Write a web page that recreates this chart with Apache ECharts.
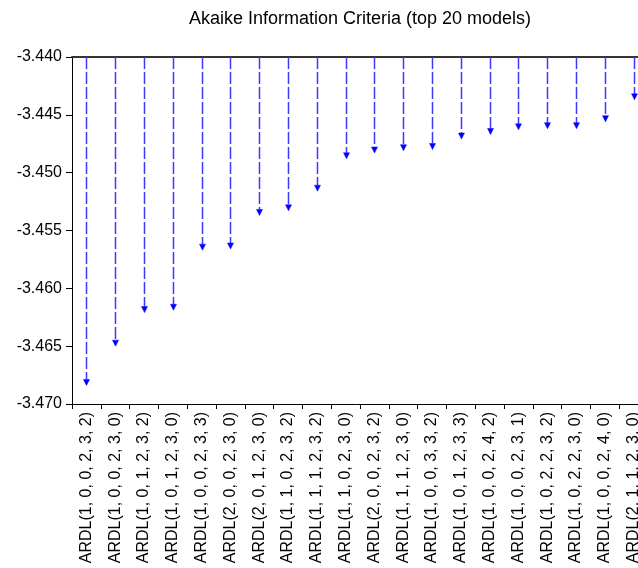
<!DOCTYPE html>
<html>
<head>
<meta charset="utf-8">
<script src="https://cdn.jsdelivr.net/npm/echarts@6/dist/echarts.min.js"></script>
<style>
html,body{margin:0;padding:0;background:#fff;}
#chart{width:638px;height:568px;}
</style>
</head>
<body>
<div id="chart"></div>
<script>
const categories = [
  "ARDL(1, 0, 0, 2, 3, 2)", "ARDL(1, 0, 0, 2, 3, 0)", "ARDL(1, 0, 1, 2, 3, 2)", "ARDL(1, 0, 1, 2, 3, 0)",
  "ARDL(1, 0, 0, 2, 3, 3)", "ARDL(2, 0, 0, 2, 3, 0)", "ARDL(2, 0, 1, 2, 3, 0)", "ARDL(1, 1, 0, 2, 3, 2)",
  "ARDL(1, 1, 1, 2, 3, 2)", "ARDL(1, 1, 0, 2, 3, 0)", "ARDL(2, 0, 0, 2, 3, 2)", "ARDL(1, 1, 1, 2, 3, 0)",
  "ARDL(1, 0, 0, 3, 3, 2)", "ARDL(1, 0, 1, 2, 3, 3)", "ARDL(1, 0, 0, 2, 4, 2)", "ARDL(1, 0, 0, 2, 3, 1)",
  "ARDL(1, 0, 2, 2, 3, 2)", "ARDL(1, 0, 2, 2, 3, 0)", "ARDL(1, 0, 0, 2, 4, 0)", "ARDL(2, 1, 1, 2, 3, 0)"
];
const aicValues = [
  -3.4684, -3.4650, -3.4621, -3.4619, -3.4567, -3.4566, -3.4537, -3.4533, -3.4516, -3.4488,
  -3.4483, -3.4481, -3.4480, -3.4471, -3.4467, -3.4463, -3.4462, -3.4462, -3.4456, -3.4437
];
const yTicks = { min: -3.470, max: -3.440, interval: 0.005 };
const baseValue = -3.440;

const chart = echarts.init(document.getElementById('chart'), null, { renderer: 'canvas' });
const FONT = 'Liberation Sans, Arial, sans-serif';

chart.setOption({
  animation: false,
  backgroundColor: '#fff',
  title: {
    text: 'Akaike Information Criteria (top 20 models)',
    left: 360,
    textAlign: 'center',
    top: 10,
    padding: 0,
    textStyle: { fontFamily: FONT, fontSize: 18, fontWeight: 'normal', color: '#000' }
  },
  grid: { left: 72, top: 57, width: 576, height: 347, containLabel: false, outerBoundsMode: 'none' },
  xAxis: [{
    type: 'category',
    data: categories,
    position: 'bottom',
    boundaryGap: true,
    axisLine: { show: true, lineStyle: { color: '#000', width: 1 } },
    axisTick: { show: true, alignWithLabel: false, length: 5, lineStyle: { color: '#000' } },
    axisLabel: { rotate: 90, interval: 0, margin: 8, padding: [8, 0, 0, 0], fontFamily: FONT, fontSize: 16, color: '#000' },
    splitLine: { show: false }
  }, {
    type: 'category',
    data: categories,
    position: 'top',
    axisLine: { show: true, lineStyle: { color: '#333', width: 2 } },
    axisTick: { show: false },
    axisLabel: { show: false },
    splitLine: { show: false }
  }],
  yAxis: {
    type: 'value',
    min: yTicks.min,
    max: yTicks.max,
    interval: yTicks.interval,
    axisLine: { show: true, lineStyle: { color: '#000', width: 1 } },
    axisTick: { show: true, length: 6, lineStyle: { color: '#000' } },
    axisLabel: { margin: 10, fontFamily: FONT, fontSize: 16, color: '#000',
      formatter: v => v.toFixed(3) },
    splitLine: { show: false }
  },
  series: [{
    type: 'custom',
    xAxisIndex: 0,
    data: aicValues.map((v, i) => [i, v]),
    renderItem: function (params, api) {
      const idx = api.value(0);
      const top = api.coord([idx, baseValue]);
      const end = api.coord([idx, api.value(1)]);
      const x = Math.round(top[0]) + 0.5;
      const ah = 6, aw = 3;
      return {
        type: 'group',
        children: [{
          type: 'line',
          shape: { x1: x, y1: top[1], x2: x, y2: end[1] - ah },
          style: { stroke: '#3a3aff', lineWidth: 1.5, lineDash: [12, 3] }
        }, {
          type: 'polygon',
          shape: { points: [[x - aw, end[1] - ah], [x + aw, end[1] - ah], [x, end[1]]] },
          style: { fill: '#0000ff', stroke: '#0000ff', lineWidth: 0.5 }
        }]
      };
    }
  }]
});
</script>
</body>
</html>
